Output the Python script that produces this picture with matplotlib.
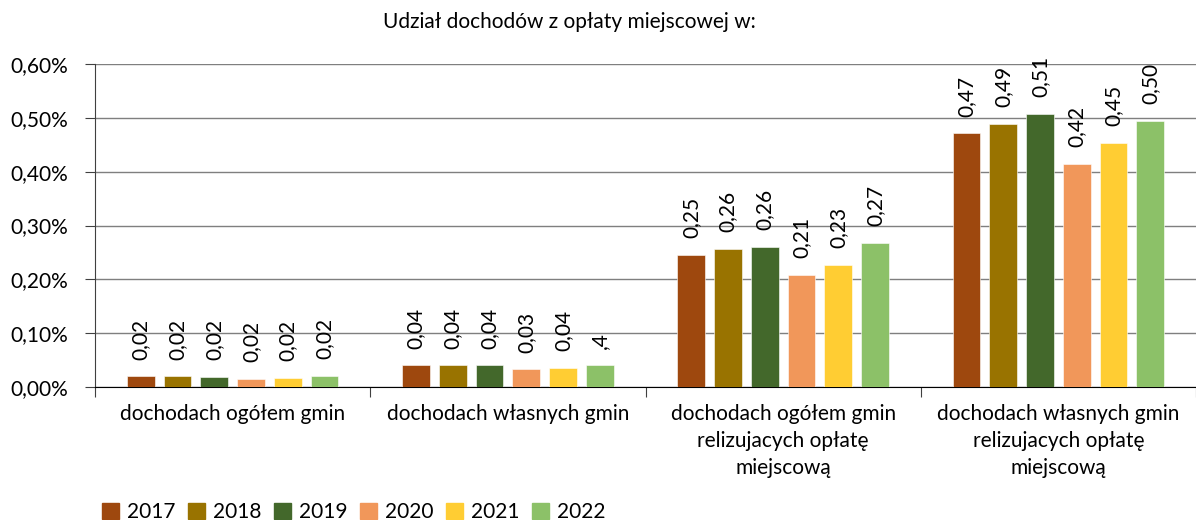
import matplotlib
matplotlib.use("Agg")
import matplotlib.pyplot as plt
import numpy as np
from matplotlib.patches import Patch

plt.rcParams['font.family'] = ['Lato', 'DejaVu Sans']

categories = ['dochodach ogółem gmin', 'dochodach własnych gmin',
              'dochodach ogółem gmin\nrelizujacych opłatę\nmiejscową',
              'dochodach własnych gmin\nrelizujacych opłatę\nmiejscową']
years = ['2017', '2018', '2019', '2020', '2021', '2022']
colors = ['#9E480E', '#997300', '#43682B', '#F1975A', '#FFCD33', '#8CC168']

# values in percent, one list per year
v2017 = [0.020, 0.040, 0.245, 0.4715]
v2018 = [0.020, 0.040, 0.2565, 0.489]
v2019 = [0.019, 0.040, 0.260, 0.508]
v2020 = [0.015, 0.033, 0.208, 0.4145]
v2021 = [0.017, 0.036, 0.227, 0.453]
v2022 = [0.021, 0.040, 0.268, 0.495]
values = [v2017, v2018, v2019, v2020, v2021, v2022]

lab2017 = ['0,02', '0,04', '0,25', '0,47']
lab2018 = ['0,02', '0,04', '0,26', '0,49']
lab2019 = ['0,02', '0,04', '0,26', '0,51']
lab2020 = ['0,02', '0,03', '0,21', '0,42']
lab2021 = ['0,02', '0,04', '0,23', '0,45']
lab2022 = ['0,02', ',4', '0,27', '0,50']
labels = [lab2017, lab2018, lab2019, lab2020, lab2021, lab2022]

fig = plt.figure(figsize=(11.96, 5.2), dpi=100)
ax = fig.add_axes([95/1196, 1-387/520, 1-95/1196, (387-64)/520])

x = np.arange(len(categories))
pitch = 0.1336
width = 0.101
for i, (yr, vals) in enumerate(zip(years, values)):
    pos = x + (i - 2.5) * pitch
    ax.bar(pos, vals, width=width, color=colors[i], label=yr, zorder=3,
           edgecolor='white', linewidth=0.4)
    for p, v, t in zip(pos, vals, labels[i]):
        ax.annotate(t, (p, v), xytext=(0, 12), textcoords='offset points',
                    rotation=90, ha='center', va='bottom', fontsize=15)

ax.set_ylim(0, 0.6)
ax.set_xlim(-0.5, 3.5)
yt = [0, 0.1, 0.2, 0.3, 0.4, 0.5, 0.6]
ax.set_yticks(yt)
ax.set_yticklabels(['{:.2f}%'.format(t).replace('.', ',') for t in yt], fontsize=15)
ax.yaxis.grid(True, color='#7f7f7f', linewidth=1, zorder=0)
ax.set_axisbelow(True)

ax.set_xticks(np.arange(-0.5, 4.0, 1.0))
ax.set_xticklabels([])
ax.set_xticks(x, minor=True)
ax.set_xticklabels(categories, minor=True, fontsize=15, linespacing=1.45)
ax.tick_params(axis='x', which='minor', length=0, pad=12)
ax.tick_params(axis='x', which='major', length=7, color='#404040')
ax.tick_params(axis='y', length=7, color='#404040', pad=12)

for s in ['top', 'right']:
    ax.spines[s].set_visible(False)
ax.spines['left'].set_color('#404040')
ax.spines['bottom'].set_color('#000000')

fig.text(569/1196, 1-22/520, 'Udział dochodów z opłaty miejscowej w:',
         ha='center', va='center', fontsize=15)

handles = [Patch(color=c, label=y) for c, y in zip(colors, years)]
fig.legend(handles=handles, loc='center left', bbox_to_anchor=(0.0785, 1-512/520),
           ncol=6, frameon=False, fontsize=15, handlelength=0.8, handleheight=0.8,
           columnspacing=0.6, handletextpad=0.4, borderaxespad=0)

fig.savefig('out.png', dpi=100)
